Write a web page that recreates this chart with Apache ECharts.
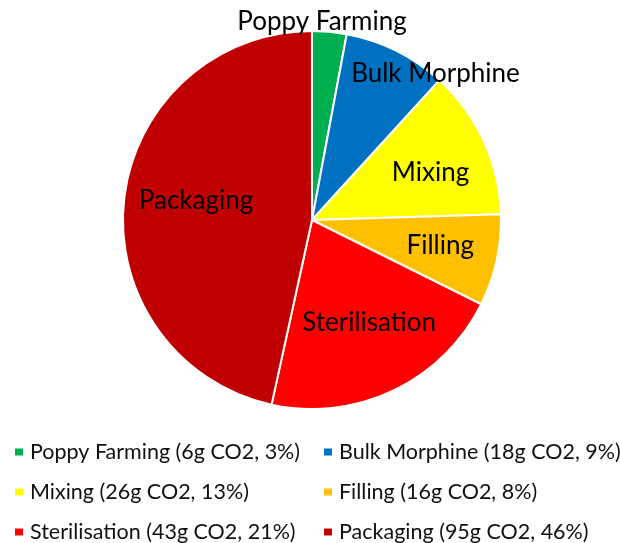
<!DOCTYPE html>
<html>
<head>
<meta charset="utf-8">
<script src="https://cdn.jsdelivr.net/npm/echarts@6/dist/echarts.min.js"></script>
<style>
  html,body{margin:0;padding:0;background:#fff;}
  #chart{width:620px;height:543px;}
</style>
</head>
<body>
<div id="chart"></div>
<script>
// stages of the supply chain, g CO2 and the share printed in the legend
var stages = ['Poppy Farming', 'Bulk Morphine', 'Mixing', 'Filling', 'Sterilisation', 'Packaging'];
var co2 = [6, 18, 26, 16, 43, 95];
var shares = [3, 9, 13, 8, 21, 46];
var colors = ['#00B050', '#0070C0', '#FFFF00', '#FFC000', '#FF0000', '#C00000'];
// nudge of each slice label away from the default inside spot
var labelShift = [[1, -101], [80, -59], [30, -7], [33, 5], [15, 15], [-19, -9]];

var font = 'Lato, "Open Sans", sans-serif';

var chart = echarts.init(document.getElementById('chart'));

var pieData = stages.map(function (s, i) {
    return {
        name: s,
        value: co2[i],
        itemStyle: {color: colors[i]},
        label: {offset: labelShift[i]}
    };
});

function legendText(name) {
    var i = stages.indexOf(name);
    return name + ' (' + co2[i] + 'g CO2, ' + shares[i] + '%)';
}

var legendBase = {
    orient: 'vertical',
    top: 441,
    height: 140,
    padding: 0,
    itemGap: 18,
    icon: 'rect',
    itemWidth: 10,
    itemHeight: 9,
    selectedMode: false,
    formatter: legendText,
    textStyle: {fontFamily: font, fontSize: 21.5, lineHeight: 22, color: '#111', padding: [0, 0, 0, 1]}
};

chart.setOption({
    animation: false,
    legend: [
        Object.assign({}, legendBase, {left: 13, data: [stages[0], stages[2], stages[4]]}),
        Object.assign({}, legendBase, {left: 322, data: [stages[1], stages[3], stages[5]]})
    ],
    series: [{
        type: 'pie',
        center: [312, 220],
        radius: 189,
        startAngle: 90,
        clockwise: true,
        avoidLabelOverlap: false,
        itemStyle: {borderColor: '#fff', borderWidth: 2},
        label: {
            show: true,
            position: 'inside',
            formatter: '{b}',
            color: '#000',
            fontFamily: font,
            fontSize: 26
        },
        labelLine: {show: false},
        emphasis: {disabled: true},
        data: pieData
    }]
});
</script>
</body>
</html>
